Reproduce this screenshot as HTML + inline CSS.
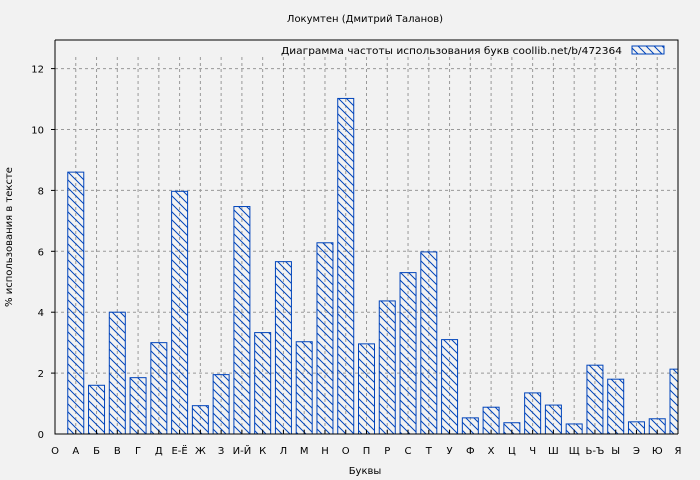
<!DOCTYPE html>
<html><head><meta charset="utf-8"><style>
html,body{margin:0;padding:0;background:#f2f2f2;}
svg{display:block;font-family:"DejaVu Sans","Liberation Sans",sans-serif;}
</style></head><body>
<svg width="700" height="480" xmlns="http://www.w3.org/2000/svg">
<defs>
<pattern id="h" patternUnits="userSpaceOnUse" width="8" height="8">
<path d="M-2,-2 L10,10 M-2,6 L2,10 M6,-2 L10,2" stroke="#0044bb" stroke-width="1"/>
</pattern>
<clipPath id="c"><rect x="55" y="40" width="623" height="394"/></clipPath>
</defs>
<rect width="700" height="480" fill="#f2f2f2"/>
<text x="365" y="22" font-size="10" text-anchor="middle" fill="#000">Локумтен (Дмитрий Таланов)</text>
<g id="grid" stroke="#999" stroke-dasharray="3,3" stroke-width="1"></g>
<g id="bars" clip-path="url(#c)"></g>
<path d="M55,40 L678,40 L678,434 M55,40 L55,434 L678,434" fill="none" stroke="#000" stroke-width="1"/>
<g id="ax" font-size="10" fill="#000"></g>
<text x="622" y="54" font-size="10" text-anchor="end" textLength="341" lengthAdjust="spacingAndGlyphs">Диаграмма частоты использования букв  coollib.net/b/472364</text>
<rect x="632" y="46" width="32" height="8" fill="url(#h)" stroke="#0044bb"/>
<text x="365" y="474" font-size="10" text-anchor="middle">Буквы</text>
<text transform="translate(12,237) rotate(-90)" font-size="10" text-anchor="middle">% использования в тексте</text>
<script>
var ns="http://www.w3.org/2000/svg";
function el(t,a,p,txt){var e=document.createElementNS(ns,t);for(var k in a)e.setAttribute(k,a[k]);if(txt!=null)e.textContent=txt;document.getElementById(p).appendChild(e);return e;}
var L=["О","А","Б","В","Г","Д","Е-Ё","Ж","З","И-Й","К","Л","М","Н","О","П","Р","С","Т","У","Ф","Х","Ц","Ч","Ш","Щ","Ь-Ъ","Ы","Э","Ю","Я"];
var V=[null,8.6,1.6,4.0,1.85,3.0,7.97,0.93,1.95,7.47,3.33,5.66,3.03,6.28,11.02,2.96,4.37,5.3,5.98,3.1,0.53,0.88,0.37,1.35,0.95,0.33,2.26,1.8,0.4,0.5,2.13];
var x0=55,dx=(678-55)/30,y0=434,sy=30.45;
for(var v=2;v<=12;v+=2){var y=y0-v*sy;
 el("line",{x1:55,x2:678,y1:y,y2:y},"grid");
 el("line",{x1:51,x2:55,y1:y,y2:y,stroke:"#000"},"ax");
 el("text",{x:44,y:y+4,"text-anchor":"end"},"ax",v);}
el("text",{x:44,y:y0+4,"text-anchor":"end"},"ax",0);
for(var i=0;i<=30;i++){var x=x0+i*dx;
 if(i>0&&i<30)el("line",{x1:x,x2:x,y1:57,y2:434},"grid");
 el("line",{x1:x,x2:x,y1:430,y2:434,stroke:"#000"},"ax");
 el("text",{x:x,y:454,"text-anchor":"middle"},"ax",L[i]);
 if(V[i]!=null){var h=V[i]*sy;el("rect",{x:x-8,y:y0-h,width:16,height:h,fill:"url(#h)",stroke:"#0044bb","stroke-width":1},"bars");}}
</script>
</svg>
</body></html>
